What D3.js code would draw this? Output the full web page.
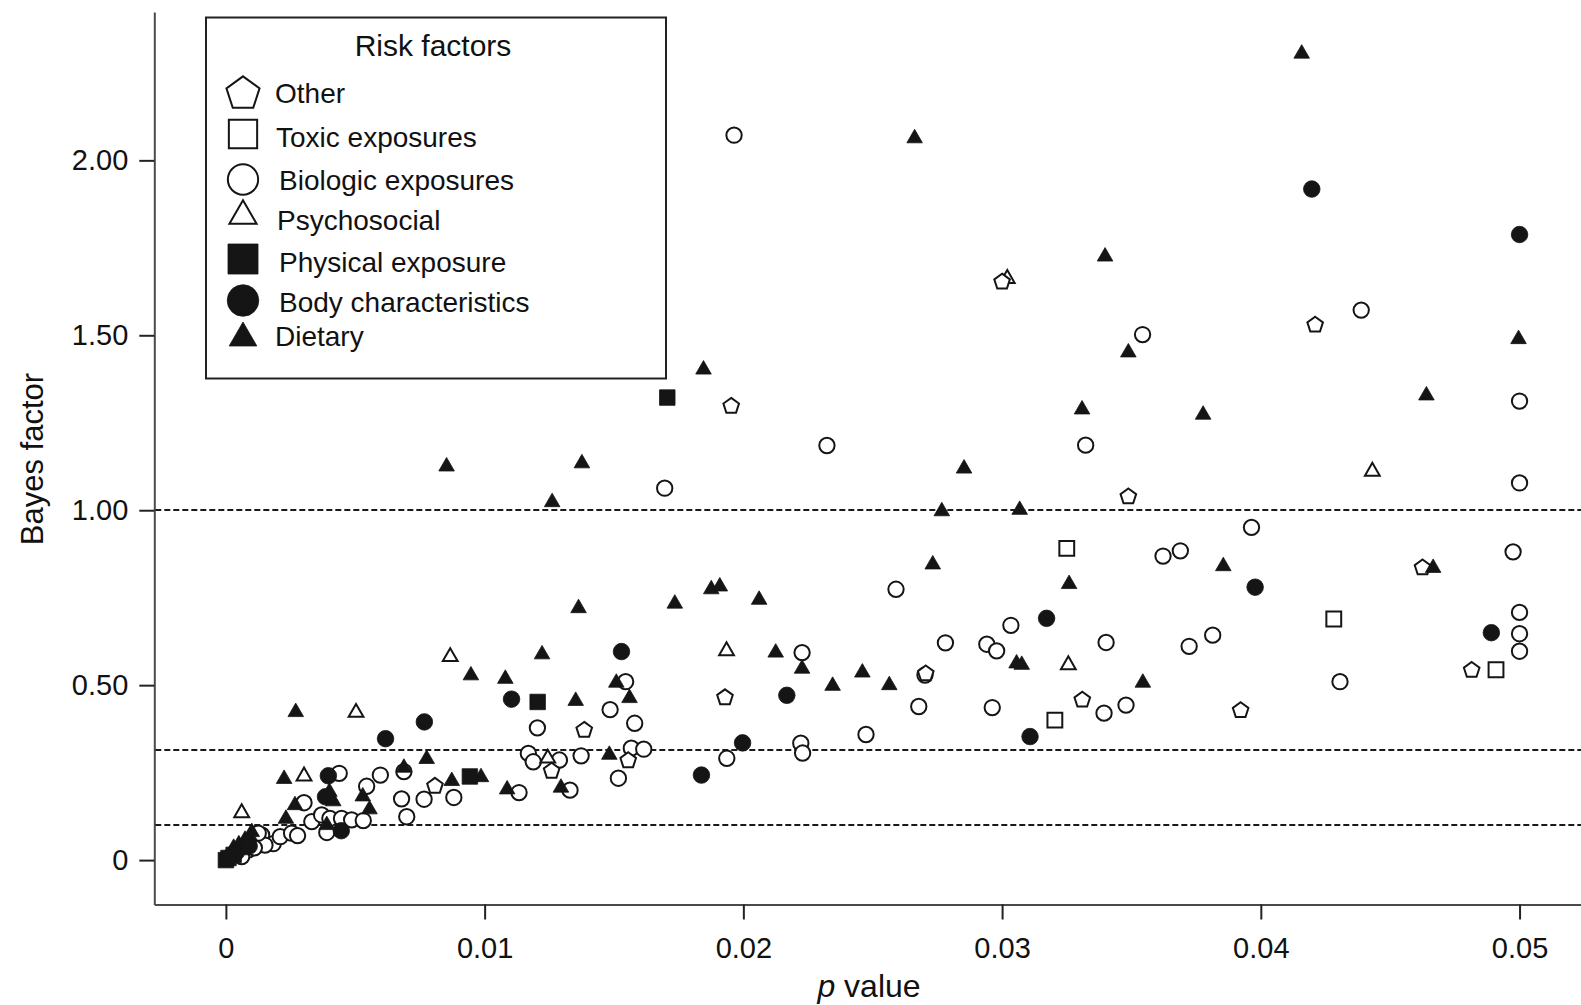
<!DOCTYPE html>
<html>
<head>
<meta charset="utf-8">
<script src="https://cdn.jsdelivr.net/npm/d3@7"></script>
<style>
  html, body { margin: 0; padding: 0; background: #fff; }
  svg { display: block; font-family: "Liberation Sans", Arial, Helvetica, sans-serif; }
</style>
</head>
<body>
<svg id="chart" width="1581" height="1005"></svg>
<script>
// ---------------- DATA ----------------
const categories = ["Other", "Toxic exposures", "Biologic exposures", "Psychosocial",
                    "Physical exposure", "Body characteristics", "Dietary"];

const xTicks = [0, 0.01, 0.02, 0.03, 0.04, 0.05];
const xTickLabels = ["0", "0.01", "0.02", "0.03", "0.04", "0.05"];
const yTicks = [0, 0.5, 1, 1.5, 2];
const yTickLabels = ["0", "0.50", "1.00", "1.50", "2.00"];
const refLines = [1, 0.316, 0.1];

// [p value, Bayes factor]
const other = [
  [0.0300, 1.655], [0.04210, 1.532], [0.01953, 1.300], [0.03488, 1.041], [0.04625, 0.838],
  [0.02705, 0.535], [0.04815, 0.545], [0.01929, 0.467], [0.03310, 0.460], [0.03922, 0.430],
  [0.01385, 0.374], [0.01259, 0.257], [0.01555, 0.287], [0.00808, 0.214]
];
const toxic = [
  [0.03250, 0.891], [0.04282, 0.689], [0.04909, 0.544], [0.03204, 0.400]
];
const biologic = [
  [0.01964, 2.072], [0.04388, 1.572], [0.03543, 1.502], [0.05, 1.312], [0.02323, 1.185],
  [0.03323, 1.186], [0.01696, 1.063], [0.05, 1.078], [0.03964, 0.951], [0.03622, 0.869],
  [0.03689, 0.884], [0.04975, 0.881], [0.02590, 0.774], [0.03034, 0.671], [0.05, 0.708],
  [0.02781, 0.621], [0.03402, 0.622], [0.03814, 0.643], [0.02941, 0.617], [0.02979, 0.598],
  [0.03723, 0.611], [0.05, 0.647], [0.05, 0.597], [0.02227, 0.593], [0.02702, 0.529],
  [0.04306, 0.510], [0.01545, 0.510], [0.01485, 0.430], [0.02678, 0.439], [0.02962, 0.436],
  [0.03394, 0.420], [0.03479, 0.443], [0.01204, 0.378], [0.01580, 0.391], [0.02474, 0.359],
  [0.02222, 0.334], [0.02229, 0.306], [0.01567, 0.320], [0.01615, 0.317], [0.01936, 0.291],
  [0.01169, 0.305], [0.01188, 0.281], [0.01289, 0.286], [0.01373, 0.298], [0.01517, 0.234],
  [0.01133, 0.193], [0.01330, 0.200], [0.00881, 0.179], [0.00766, 0.174], [0.00679, 0.175],
  [0.00699, 0.124], [0.00688, 0.253], [0.00597, 0.243], [0.00544, 0.211], [0.00438, 0.248],
  [0.00302, 0.164], [0.00332, 0.110], [0.00370, 0.129], [0.00402, 0.119], [0.00447, 0.119],
  [0.00486, 0.115], [0.00531, 0.113], [0.00390, 0.079], [0.00138, 0.072], [0.00183, 0.047],
  [0.00210, 0.067], [0.00254, 0.077], [0.00277, 0.070], [0.00151, 0.043], [0.00125, 0.077],
  [0.00087, 0.029], [0.00061, 0.010], [0.00110, 0.035]
];
const psychosocial = [
  [0.0302, 1.662], [0.04431, 1.111], [0.01935, 0.598], [0.00867, 0.581], [0.03256, 0.558],
  [0.00503, 0.422], [0.01244, 0.291], [0.00302, 0.240], [0.00061, 0.135]
];
const physical = [
  [0.01706, 1.322], [0.01205, 0.452], [0.00943, 0.239], [0.0000, 0.000], [0.0003, 0.015],
  [0.0001, 0.006]
];
const body = [
  [0.04197, 1.918], [0.05, 1.788], [0.03978, 0.780], [0.03172, 0.691], [0.04891, 0.650],
  [0.01529, 0.596], [0.02168, 0.471], [0.01104, 0.460], [0.00767, 0.395], [0.03108, 0.353],
  [0.00617, 0.347], [0.01997, 0.335], [0.01838, 0.243], [0.00396, 0.241], [0.00385, 0.181],
  [0.00446, 0.084], [0.00040, 0.022], [0.00090, 0.040], [0.00020, 0.012]
];
const dietary = [
  [0.04158, 2.305], [0.02662, 2.063], [0.03398, 1.725], [0.04996, 1.489], [0.03488, 1.451],
  [0.01846, 1.402], [0.04640, 1.328], [0.03309, 1.288], [0.03777, 1.273], [0.00853, 1.125],
  [0.01376, 1.134], [0.02853, 1.119], [0.01261, 1.023], [0.02767, 0.997], [0.03068, 1.001],
  [0.02732, 0.845], [0.03855, 0.840], [0.04666, 0.835], [0.03259, 0.789], [0.01876, 0.774],
  [0.01909, 0.782], [0.02061, 0.744], [0.01735, 0.733], [0.01363, 0.720], [0.02125, 0.593],
  [0.01222, 0.588], [0.03056, 0.562], [0.03076, 0.558], [0.02227, 0.547], [0.02460, 0.536],
  [0.00947, 0.528], [0.01080, 0.518], [0.03544, 0.507], [0.02564, 0.500], [0.02345, 0.498],
  [0.01509, 0.507], [0.01560, 0.463], [0.00270, 0.423], [0.01352, 0.455], [0.01482, 0.301],
  [0.00776, 0.289], [0.00688, 0.264], [0.00225, 0.232], [0.00873, 0.226], [0.00986, 0.237],
  [0.01087, 0.202], [0.01295, 0.207], [0.00415, 0.168], [0.00400, 0.195], [0.00267, 0.157],
  [0.00232, 0.118], [0.00529, 0.182], [0.00555, 0.145], [0.00390, 0.100], [0.00093, 0.067],
  [0.00074, 0.058], [0.00100, 0.080], [0.00030, 0.035], [0.00050, 0.045], [0.00015, 0.015],
  [0.00060, 0.028], [0.00080, 0.050]
];

// ---------------- SETUP ----------------
const svg = d3.select("#chart");
const W = 1581, H = 1005;
const axisX = 154.3, axisY = 904.5;

const x = d3.scaleLinear().domain([-0.002767, 0.052375]).range([axisX, W]);
const y = d3.scaleLinear().domain([-0.1269, 2.424]).range([axisY, 12]);

// pentagon symbol type
const symbolPentagon = {
  draw(context, size) {
    const R = Math.sqrt(size / (2.5 * Math.sin(72 * Math.PI / 180)));
    for (let k = 0; k < 5; k++) {
      const a = (-90 + k * 72) * Math.PI / 180;
      const px = R * Math.cos(a), py = R * Math.sin(a) + R * 0.1;
      if (k === 0) context.moveTo(px, py); else context.lineTo(px, py);
    }
    context.closePath();
  }
};

const INK = "#151515";
const styles = {
  "Other":                { type: symbolPentagon,      size: 160, fill: "#fff", legendSize: 720 },
  "Toxic exposures":      { type: d3.symbolSquare,     size: 220, fill: "#fff", legendSize: 800 },
  "Biologic exposures":   { type: d3.symbolCircle,     size: 185, fill: "#fff", legendSize: 720 },
  "Psychosocial":         { type: d3.symbolTriangle,   size: 95,  fill: "#fff", legendSize: 320 },
  "Physical exposure":    { type: d3.symbolSquare,     size: 240, fill: INK,    legendSize: 900 },
  "Body characteristics": { type: d3.symbolCircle,     size: 215, fill: INK,    legendSize: 780 },
  "Dietary":              { type: d3.symbolTriangle,   size: 105, fill: INK,    legendSize: 330 }
};
const seriesData = {
  "Other": other, "Toxic exposures": toxic, "Biologic exposures": biologic,
  "Psychosocial": psychosocial, "Physical exposure": physical,
  "Body characteristics": body, "Dietary": dietary
};

// ---------------- AXES ----------------
const yAxis = d3.axisLeft(y).tickValues(yTicks)
  .tickFormat((d, i) => yTickLabels[i]).tickSize(15).tickSizeOuter(0).tickPadding(11);
const gy = svg.append("g").attr("transform", `translate(${axisX},0)`).call(yAxis);

const xAxis = d3.axisBottom(x).tickValues(xTicks)
  .tickFormat((d, i) => xTickLabels[i]).tickSize(15).tickSizeOuter(0).tickPadding(18);
const gx = svg.append("g").attr("transform", `translate(0,${axisY})`).call(xAxis);

[gx, gy].forEach(g => {
  g.select(".domain").attr("stroke", "#4a4a4a").attr("stroke-width", 2);
  g.selectAll(".tick line").attr("stroke", "#222").attr("stroke-width", 2);
  g.selectAll(".tick text").attr("fill", "#111").style("font-size", "29px")
    .style("font-family", "'Liberation Sans', Arial, sans-serif");
});

// axis titles
svg.append("text")
  .attr("transform", `translate(43,459) rotate(-90)`)
  .attr("text-anchor", "middle")
  .style("font-size", "31px").attr("fill", "#111")
  .text("Bayes factor");

const xt = svg.append("text")
  .attr("x", 869).attr("y", 997)
  .attr("text-anchor", "middle")
  .style("font-size", "32px").attr("fill", "#111");
xt.append("tspan").style("font-style", "italic").text("p");
xt.append("tspan").text(" value");

// reference lines
svg.append("g").selectAll("line").data(refLines).join("line")
  .attr("x1", axisX + 1).attr("x2", W)
  .attr("y1", d => Math.round(y(d))).attr("y2", d => Math.round(y(d)))
  .attr("stroke", "#1a1a1a").attr("stroke-width", 2)
  .attr("stroke-dasharray", "6,3");

// ---------------- POINTS ----------------
const drawOrder = ["Biologic exposures", "Psychosocial", "Toxic exposures", "Other",
                   "Dietary", "Body characteristics", "Physical exposure"];
const pts = svg.append("g");
drawOrder.forEach(cat => {
  const st = styles[cat];
  const sym = d3.symbol().type(st.type).size(st.size);
  pts.append("g").selectAll("path").data(seriesData[cat]).join("path")
    .attr("d", sym)
    .attr("transform", d => `translate(${x(d[0])},${y(d[1])})`)
    .attr("fill", st.fill)
    .attr("stroke", INK)
    .attr("stroke-width", st.fill === INK ? 0.8 : 2);
});

// ---------------- LEGEND ----------------
const lg = svg.append("g");
lg.append("rect").attr("x", 206).attr("y", 17.5).attr("width", 460).attr("height", 361)
  .attr("fill", "#fff").attr("stroke", "#222").attr("stroke-width", 2);
lg.append("text").attr("x", 433).attr("y", 56).attr("text-anchor", "middle")
  .style("font-size", "30px").attr("fill", "#111").text("Risk factors");

const legSymY = [92, 134, 179.5, 216, 259, 300.5, 338];
const legTxtY = [103, 147, 190, 230, 272, 312, 346];
const legTxtX = [275, 276, 279, 277, 279, 279, 275];
categories.forEach((cat, i) => {
  const st = styles[cat];
  lg.append("path")
    .attr("d", d3.symbol().type(st.type).size(st.legendSize)())
    .attr("transform", `translate(243,${legSymY[i]})`)
    .attr("fill", st.fill).attr("stroke", INK)
    .attr("stroke-width", st.fill === INK ? 0.8 : 2);
  lg.append("text").attr("x", legTxtX[i]).attr("y", legTxtY[i])
    .style("font-size", "28px").attr("fill", "#111").text(cat);
});
</script>
</body>
</html>
